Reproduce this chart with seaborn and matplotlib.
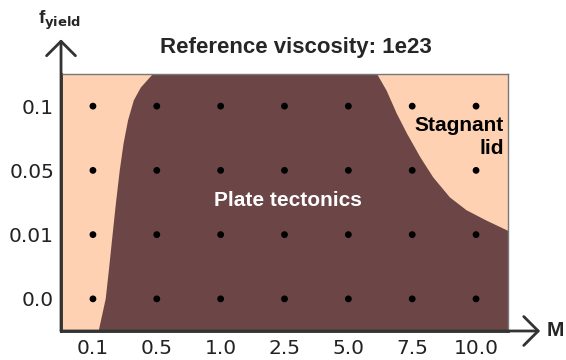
import matplotlib
matplotlib.use('Agg')
import matplotlib.pyplot as plt
import seaborn as sns
import pandas as pd

# grid of runs
m_labels = ['0.1', '0.5', '1.0', '2.5', '5.0', '7.5', '10.0']
f_labels = ['0.0', '0.01', '0.05', '0.1']

# regime boundaries (in grid index units)
# left edge of the plate tectonics field, bottom to top
left_x = [0.09, 0.20, 0.25, 0.31, 0.36, 0.42, 0.48, 0.55, 0.64, 0.75, 0.94]
left_y = [-0.5, 0.00, 0.45, 1.02, 1.49, 2.00, 2.42, 2.78, 3.09, 3.29, 3.50]
# stagnant lid boundary, top to right edge
lid_x = [4.45, 4.60, 4.76, 4.92, 5.13, 5.33, 5.59, 5.85, 6.16, 6.50]
lid_y = [3.50, 3.24, 2.88, 2.57, 2.20, 1.89, 1.58, 1.38, 1.22, 1.06]

peach = '#FDD1B1'
brown = '#6C4646'

sns.set_style('white')
plt.rcParams['font.family'] = ['Liberation Sans', 'DejaVu Sans']

fig = plt.figure(figsize=(5.66, 3.6), dpi=100)
ax = fig.add_axes([0.1078, 0.0806, 0.7897, 0.7138])
ax.set_facecolor(peach)

# plate tectonics region
poly_x = left_x + lid_x + [6.5]
poly_y = left_y + lid_y + [-0.5]
ax.fill(poly_x, poly_y, color=brown, lw=0, zorder=1)

grid = pd.DataFrame([(m, f) for f in f_labels for m in m_labels], columns=['M', 'f'])
grid['xi'] = grid['M'].map({m: i for i, m in enumerate(m_labels)})
grid['yi'] = grid['f'].map({f: i for i, f in enumerate(f_labels)})
sns.scatterplot(data=grid, x='xi', y='yi', color='black', s=24, edgecolor='none', ax=ax, zorder=3)

ax.set_xlim(-0.5, 6.5)
ax.set_ylim(-0.5, 3.5)
ax.set_xticks(range(len(m_labels)))
ax.set_xticklabels(m_labels)
ax.set_yticks(range(len(f_labels)))
ax.set_yticklabels(f_labels)
ax.tick_params(length=0, labelsize=14.5, labelcolor='#222222')
ax.tick_params(axis='y', pad=5)
ax.tick_params(axis='x', pad=6)
for lab in ax.get_xticklabels() + ax.get_yticklabels():
    lab.set_family('DejaVu Sans')
ax.set_xlabel('')
ax.set_ylabel('')

for s in ['top', 'right']:
    ax.spines[s].set_color('#777777')
    ax.spines[s].set_linewidth(1.0)
for s in ['left', 'bottom']:
    ax.spines[s].set_color('#333333')
    ax.spines[s].set_linewidth(2.0)

# axis arrows
arrow = dict(arrowstyle='->,head_length=0.8,head_width=0.8', lw=2, color='#333333',
             shrinkA=0, shrinkB=0, mutation_scale=13)
ax.annotate('', xy=(0, 1.135), xytext=(0, 0), xycoords='axes fraction',
            textcoords='axes fraction', arrowprops=arrow, annotation_clip=False)
ax.annotate('', xy=(1.072, 0), xytext=(0, 0), xycoords='axes fraction',
            textcoords='axes fraction', arrowprops=arrow, annotation_clip=False)

fig.text(0.106, 0.945, r'f$_{\mathbf{yield}}$', fontsize=13.5, fontweight='bold',
         ha='center', va='center')
fig.text(0.982, 0.081, 'M', fontsize=15, fontweight='bold', ha='center', va='center')
fig.text(0.522, 0.867, 'Reference viscosity: 1e23', fontsize=16, fontweight='bold',
         ha='center', va='center')

ax.text(3.05, 1.53, 'Plate tectonics', color='white', fontsize=15, fontweight='bold',
        ha='center', va='center', zorder=4)
ax.text(6.43, 2.52, 'Stagnant\nlid', color='black', fontsize=15, fontweight='bold',
        ha='right', va='center', linespacing=1.25, zorder=4)

plt.savefig('out.png', dpi=100)
